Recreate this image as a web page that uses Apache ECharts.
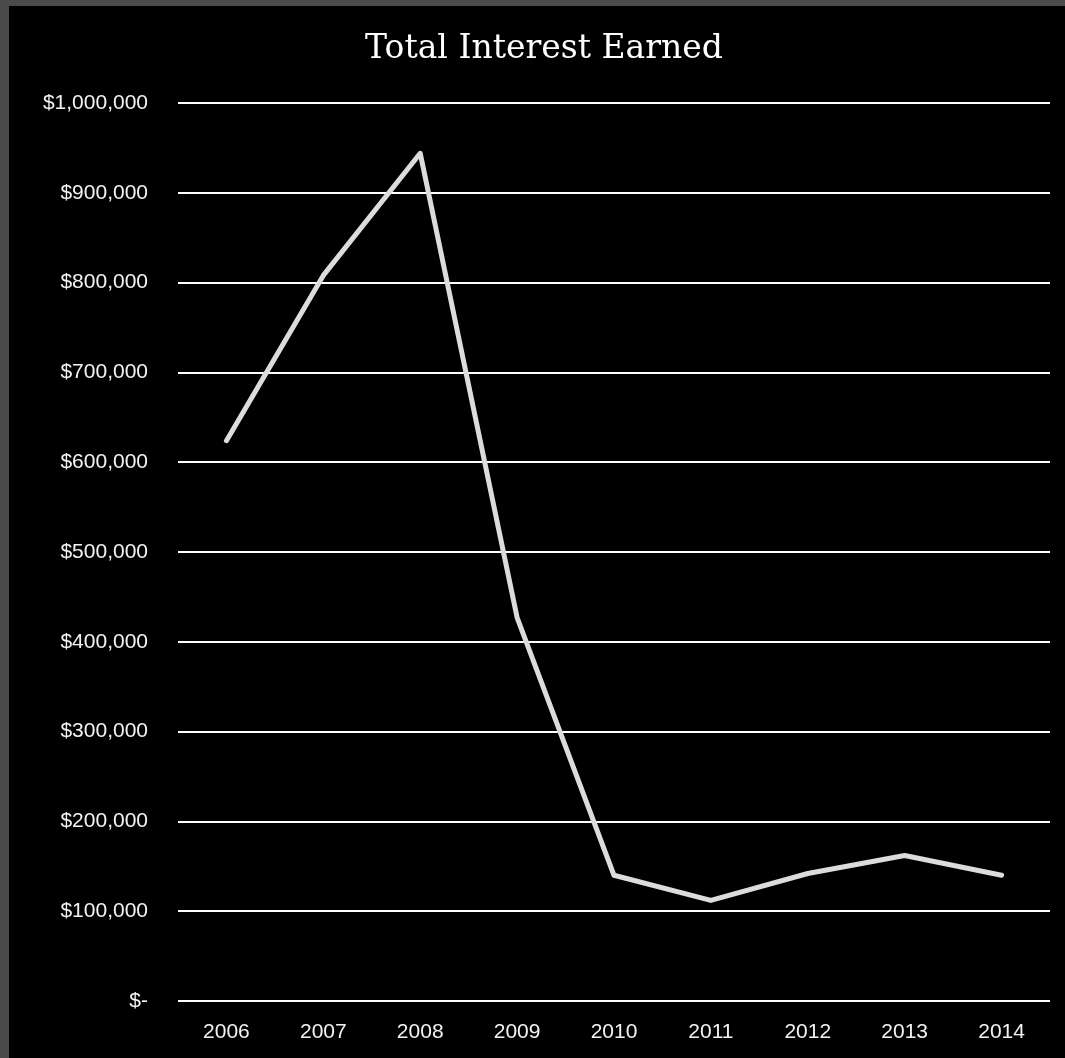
<!DOCTYPE html>
<html>
<head>
<meta charset="utf-8">
<script src="https://cdn.jsdelivr.net/npm/echarts@6/dist/echarts.min.js"></script>
<style>
  html, body { margin: 0; padding: 0; width: 1065px; height: 1058px; background: #4b4b4b; overflow: hidden; }
  #chart { position: absolute; left: 9px; top: 6px; width: 1056px; height: 1052px; background: #000; }
</style>
</head>
<body>
<div id="chart"></div>
<script>
const years = ['2006', '2007', '2008', '2009', '2010', '2011', '2012', '2013', '2014'];
const interestEarned = [624000, 808000, 944000, 427000, 140000, 112000, 142000, 162000, 140000];
const titleText = 'Total Interest Earned';

function fmtMoney(v) {
  if (v === 0) return '$-';
  return '$' + v.toString().replace(/\B(?=(\d{3})+(?!\d))/g, ',');
}

const chart = echarts.init(document.getElementById('chart'));
chart.setOption({
  backgroundColor: '#000',
  animation: false,
  title: {
    text: titleText,
    left: 530,
    top: 22,
    textAlign: 'center',
    textStyle: { color: '#ffffff', fontFamily: 'DejaVu Serif', fontWeight: 'normal', fontSize: 33 }
  },
  grid: { left: 169, right: 15, top: 97, bottom: 57, containLabel: false },
  xAxis: {
    type: 'category',
    data: years,
    boundaryGap: true,
    axisLine: { show: false },
    axisTick: { show: false },
    axisLabel: { color: '#f2f2f2', fontSize: 21, fontFamily: 'Liberation Sans', margin: 21 }
  },
  yAxis: {
    type: 'value',
    min: 0,
    max: 1000000,
    interval: 100000,
    axisLine: { show: false },
    axisTick: { show: false },
    splitLine: { lineStyle: { color: '#ffffff', width: 2 } },
    axisLabel: { color: '#f2f2f2', fontSize: 21, fontFamily: 'Liberation Sans', margin: 30, formatter: fmtMoney }
  },
  series: [{
    type: 'line',
    data: interestEarned,
    symbol: 'none',
    lineStyle: { color: '#dcdcdc', width: 5, join: 'round', cap: 'round' }
  }]
});
</script>
</body>
</html>
